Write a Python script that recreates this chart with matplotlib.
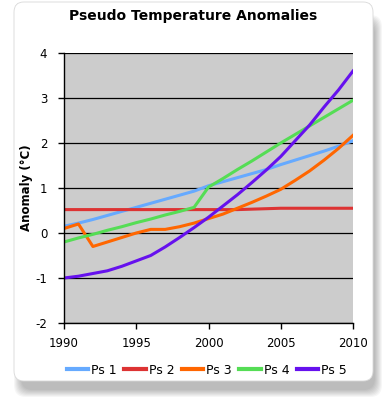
import matplotlib.pyplot as plt
from matplotlib.patches import FancyBboxPatch

plt.rcParams['axes.unicode_minus'] = False

years = list(range(1990, 2011))
ps1 = [0.15, 0.22, 0.30, 0.39, 0.48, 0.57, 0.66, 0.75, 0.84, 0.93, 1.05,
       1.14, 1.23, 1.32, 1.41, 1.52, 1.62, 1.72, 1.82, 1.93, 2.05]
ps2 = [0.52, 0.52, 0.52, 0.52, 0.52, 0.52, 0.52, 0.52, 0.52, 0.52, 0.52,
       0.52, 0.52, 0.53, 0.54, 0.55, 0.55, 0.55, 0.55, 0.55, 0.55]
ps3 = [0.10, 0.20, -0.30, -0.20, -0.10, 0.00, 0.08, 0.08, 0.14, 0.22, 0.32,
       0.42, 0.55, 0.68, 0.82, 0.97, 1.17, 1.38, 1.62, 1.88, 2.17]
ps4 = [-0.20, -0.11, -0.03, 0.06, 0.14, 0.23, 0.31, 0.40, 0.48, 0.57, 1.02,
       1.21, 1.41, 1.60, 1.80, 2.00, 2.19, 2.38, 2.57, 2.76, 2.95]
ps5 = [-1.00, -0.96, -0.90, -0.84, -0.74, -0.62, -0.50, -0.31, -0.10, 0.12, 0.35,
       0.60, 0.85, 1.12, 1.40, 1.70, 2.05, 2.40, 2.80, 3.18, 3.60]

series = [("Ps 1", ps1, "#66aaff"), ("Ps 2", ps2, "#dd3333"),
          ("Ps 3", ps3, "#ff6600"), ("Ps 4", ps4, "#55dd55"),
          ("Ps 5", ps5, "#6611ee")]

W, H = 387, 405
fig = plt.figure(figsize=(W / 100, H / 100), dpi=100)

# soft drop shadow: stacked translucent boxes, mostly below the card
for g in range(8, 0, -1):
    sh = FancyBboxPatch(((22 - g) / W, (16 - g) / H),
                        (352 + 2 * g) / W, (366 + 2 * g) / H,
                        boxstyle="round,pad=0,rounding_size=0.03",
                        transform=fig.transFigure, facecolor="black",
                        edgecolor="none", alpha=0.035, zorder=0)
    fig.patches.append(sh)
card = FancyBboxPatch((14 / W, 24 / H), 359 / W, 379 / H,
                      boxstyle="round,pad=0,rounding_size=0.025",
                      transform=fig.transFigure, facecolor="white",
                      edgecolor="#d8d8d8", linewidth=0.6, zorder=1)
fig.patches.append(card)

ax = fig.add_axes([64 / W, 82 / H, 289 / W, 270 / H], zorder=2)
ax.set_facecolor("#cccccc")

for name, vals, col in series:
    ax.plot(years, vals, color=col, lw=2.2, label=name)

ax.set_xlim(1990, 2010)
ax.set_ylim(-2, 4)
ax.set_xticks([1990, 1995, 2000, 2005, 2010])
ax.set_yticks(range(-2, 5))
ax.yaxis.grid(True, color="black", lw=0.9)
ax.set_axisbelow(True)
for s in ["top", "right"]:
    ax.spines[s].set_visible(False)
for s in ["left", "bottom"]:
    ax.spines[s].set_color("black")
    ax.spines[s].set_linewidth(1.0)
ax.tick_params(direction="out", length=4, width=1, labelsize=8.5, pad=6)
ax.tick_params(axis="y", pad=8)

ax.set_ylabel("Anomaly (°C)", fontsize=8.5, fontweight="bold", labelpad=2)
fig.text(0.5, 1 - 16 / H, "Pseudo Temperature Anomalies", ha="center",
         va="center", fontsize=10, fontweight="bold", zorder=3)

leg = fig.legend(loc="center", bbox_to_anchor=(0.535, 1 - 370 / H), ncol=5,
                 frameon=False, fontsize=9, handlelength=1.7,
                 handletextpad=0.25, columnspacing=0.6)
for line in leg.get_lines():
    line.set_linewidth(3)

fig.savefig("out.png", dpi=100)
